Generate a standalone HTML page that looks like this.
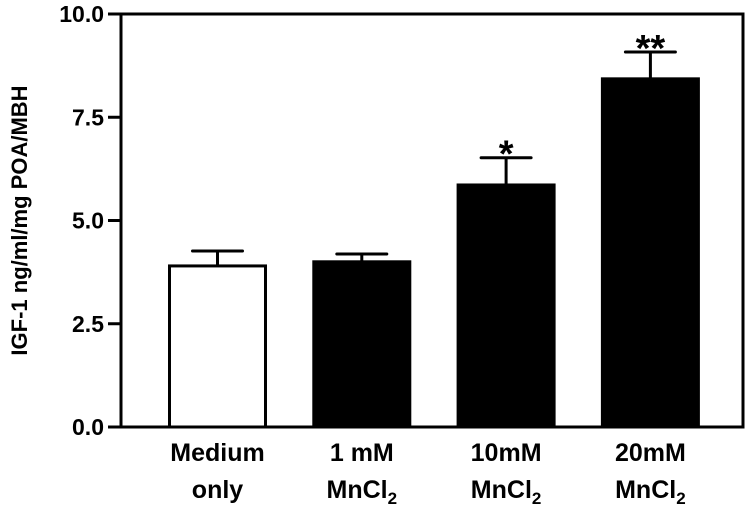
<!DOCTYPE html>
<html><head><meta charset="utf-8"><style>
body{margin:0;background:#fff}
svg text{font-family:"Liberation Sans",sans-serif;font-weight:bold;fill:#000}
</style></head><body>
<svg id="chart" width="750" height="507" viewBox="0 0 750 507" xmlns="http://www.w3.org/2000/svg">
<g id="plot"></g>
</svg>
<script>
const categories = ["Medium|only", "1 mM|MnCl2", "10mM|MnCl2", "20mM|MnCl2"];
const values = [3.9, 4.0, 5.86, 8.43];
const errors = [0.36, 0.19, 0.66, 0.65];
const stars = ["", "", "*", "**"];
const yTicks = [0, 2.5, 5, 7.5, 10];
const yTickLabels = ["0.0", "2.5", "5.0", "7.5", "10.0"];
const fills = ["#fff", "#000", "#000", "#000"];

const NS = "http://www.w3.org/2000/svg";
const g = document.getElementById("plot");
const x0 = 121, x1 = 743, yTop = 14, yBot = 427;
const y = v => yBot - (v / 10) * (yBot - yTop);
const pitch = 144.3, first = 217.5, bw = 96;
const xc = i => first + i * pitch;
function el(tag, attrs, parent) {
  const e = document.createElementNS(NS, tag);
  for (const k in attrs) e.setAttribute(k, attrs[k]);
  (parent || g).appendChild(e);
  return e;
}
let f = el("rect", {x: x0, y: yTop, width: x1 - x0, height: yBot - yTop, fill: "none", stroke: "#000", "stroke-width": 3});


yTicks.forEach((t, i) => {
  const tk = el("line", {x1: x0 - 13, x2: x0, y1: y(t), y2: y(t), stroke: "#000", "stroke-width": 3});
  
  
  const tl = el("text", {x: x0 - 17, y: y(t) + 8, "text-anchor": "end", "font-size": 23});
  tl.textContent = yTickLabels[i];
  
  
});
const yt = el("text", {x: 0, y: 0, "text-anchor": "middle", "font-size": 22, transform: "translate(27," + ((yTop + yBot) / 2) + ") rotate(-90)"});
yt.textContent = "IGF-1 ng/ml/mg POA/MBH";



values.forEach((v, i) => {
  const cx = xc(i);
  const top = y(v + errors[i]);
  const eb = el("line", {x1: cx, x2: cx, y1: y(v), y2: top, stroke: "#000", "stroke-width": 3});
  
  
  const cap = el("line", {x1: cx - 25, x2: cx + 25, y1: top, y2: top, stroke: "#000", "stroke-width": 3, "stroke-linecap": "round"});
  
  
  const b = el("rect", {x: cx - bw / 2, y: y(v), width: bw, height: yBot - y(v), fill: fills[i], stroke: "#000", "stroke-width": 3});
  
  
  if (stars[i]) {
    const s = el("text", {x: cx, y: top + 9, "text-anchor": "middle", "font-size": 38});
    s.textContent = stars[i];
    
    
  }
  const parts = categories[i].split("|");
  const l1 = el("text", {x: cx, y: 461, "text-anchor": "middle", "font-size": 25});
  l1.textContent = parts[0];
  
  
  const l2 = el("text", {x: cx, y: 498, "text-anchor": "middle", "font-size": 25});
  
  
  if (parts[1].endsWith("2")) {
    l2.textContent = parts[1].slice(0, -1);
    const sub = el("tspan", {"font-size": 17, dy: 6}, l2);
    sub.textContent = "2";
  } else l2.textContent = parts[1];
});
</script>
</body></html>
